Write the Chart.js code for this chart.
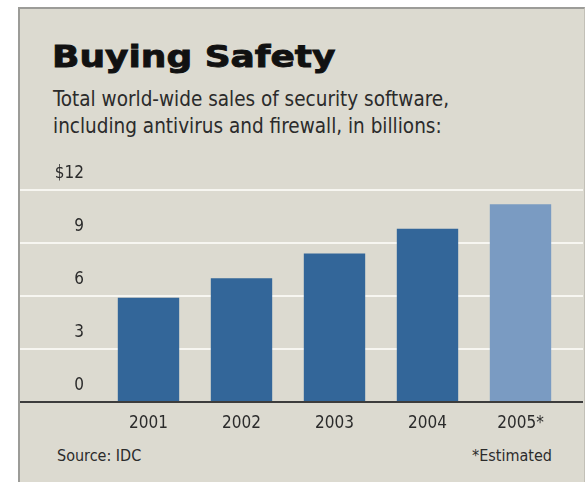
<!DOCTYPE html>
<html>
<head>
<meta charset="utf-8">
<script src="https://cdn.jsdelivr.net/npm/chart.js@4/dist/chart.umd.min.js"></script>
<style>
    html, body {
        margin: 0;
        padding: 0;
        background: #fff;
    }
    #wrap {
        position: relative;
        width: 585px;
        height: 482px;
        overflow: hidden;
    }
    #panel {
        position: absolute;
        left: 18px;
        top: 7px;
        width: 564px;
        height: 480px;
        background: #dcdad0;
        border-left: 2px solid #9c9c98;
        border-top: 2px solid #9c9c98;
        border-right: 1px solid #c2c0b7;
    }
    .txt {
        position: absolute;
        white-space: nowrap;
        color: #2b2b2b;
        font-family: 'DejaVu Sans Condensed', sans-serif;
    }
    #title {
        left: 52px;
        top: 38px;
        font-family: 'DejaVu Sans', sans-serif;
        font-weight: bold;
        font-size: 31px;
        color: #111;
        -webkit-text-stroke: 0.9px #111;
        transform: scaleX(1.16);
        transform-origin: left top;
    }
    #subtitle {
        left: 53px;
        top: 86px;
        font-size: 20.5px;
        line-height: 27px;
    }
    #source {
        left: 57px;
        top: 446px;
        font-size: 16px;
    }
    #note {
        right: 33px;
        top: 446px;
        font-size: 16px;
    }
    canvas {
        position: absolute;
        left: 0;
        top: 0;
    }
</style>
</head>
<body>
<div id="wrap">
    <div id="panel"></div>
    <div class="txt" id="title">Buying Safety</div>
    <div class="txt" id="subtitle">Total world-wide sales of security software,<br>including antivirus and firewall, in billions:</div>
    <div class="txt" id="source">Source: IDC</div>
    <div class="txt" id="note">*Estimated</div>
    <canvas id="chart" width="585" height="482"></canvas>
</div>
<script>
'use strict';

// продажи по годам, млрд долларов (2005 - оценка)
const years = ['2001', '2002', '2003', '2004', '2005*'];
const sales = [5.9, 7.0, 8.4, 9.8, 11.2];
const estimated = [false, false, false, false, true];
const yTicks = [0, 3, 6, 9, 12];

const BAR_COLOR = '#336699';
const EST_COLOR = '#7a9bc2';
const TICK_FONT = { family: "'DejaVu Sans Condensed', sans-serif", size: 17 };

// линии сетки тянутся через всю панель, а не только по области графика
const panelGrid = {
    id: 'panelGrid',
    beforeDatasetsDraw(chart) {
        let ctx = chart.ctx;
        let y = chart.scales.y;
        ctx.save();
        ctx.strokeStyle = '#f7f6f1';
        ctx.lineWidth = 2;
        for (let v of yTicks) {
            if (v === 0) continue;
            let py = Math.round(y.getPixelForValue(v));
            ctx.beginPath();
            ctx.moveTo(20, py);
            ctx.lineTo(583, py);
            ctx.stroke();
        }
        ctx.restore();
    },
    afterDatasetsDraw(chart) {
        // нулевая линия поверх столбцов
        let ctx = chart.ctx;
        let py = Math.round(chart.scales.y.getPixelForValue(0));
        ctx.save();
        ctx.strokeStyle = '#3c3c3c';
        ctx.lineWidth = 2;
        ctx.beginPath();
        ctx.moveTo(20, py);
        ctx.lineTo(583, py);
        ctx.stroke();
        ctx.restore();
    },
};

var ctx = document.getElementById('chart').getContext('2d');
var cfg = {
    type: 'bar',
    data: {
        labels: years,
        datasets: [
            {
                data: sales,
                backgroundColor: estimated.map((e) => (e ? EST_COLOR : BAR_COLOR)),
                borderWidth: 0,
                barPercentage: 0.66,
                categoryPercentage: 1,
            },
        ],
    },
    options: {
        responsive: false,
        animation: false,
        layout: {
            padding: { left: 53, right: 18, top: 190, bottom: 50 },
        },
        plugins: {
            legend: { display: false },
            tooltip: { enabled: false },
        },
        scales: {
            x: {
                grid: { display: false, drawTicks: false },
                border: { display: false },
                ticks: {
                    color: '#2b2b2b',
                    font: TICK_FONT,
                    padding: 11,
                },
                afterFit: (s) => {
                    s.height = 30;
                },
            },
            y: {
                min: 0,
                max: 12,
                grid: { display: false, drawTicks: false },
                border: { display: false },
                afterBuildTicks: (s) => {
                    s.ticks = yTicks.map((v) => ({ value: v }));
                },
                ticks: {
                    color: '#2b2b2b',
                    font: TICK_FONT,
                    padding: 18,
                    labelOffset: -16,
                    callback: (v) => (v === 12 ? '$' + v : '' + v),
                },
                afterFit: (s) => {
                    s.width = 49;
                },
            },
        },
    },
    plugins: [panelGrid],
};
var chart = new Chart(ctx, cfg);
</script>
</body>
</html>
